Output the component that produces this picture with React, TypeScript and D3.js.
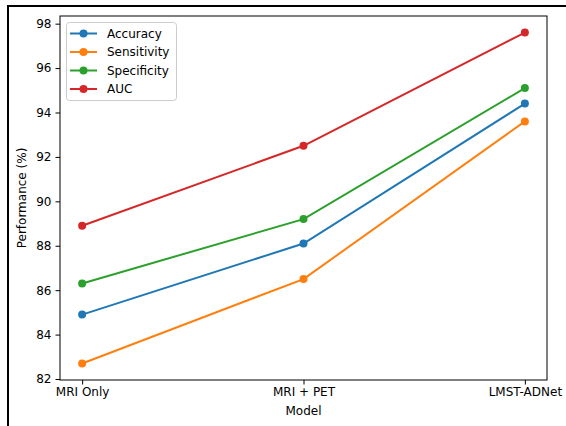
import React, { useEffect, useRef } from "react";
import * as d3 from "d3";

const WIDTH = 566;
const HEIGHT = 426;

const models = ["MRI Only", "MRI + PET", "LMST-ADNet"];
const accuracy = [84.9, 88.1, 94.4];
const sensitivity = [82.7, 86.5, 93.6];
const specificity = [86.3, 89.2, 95.1];
const auc = [88.9, 92.5, 97.6];
const yTicks = [82, 84, 86, 88, 90, 92, 94, 96, 98];

const series = [
  { name: "Accuracy", values: accuracy, color: "#1f77b4" },
  { name: "Sensitivity", values: sensitivity, color: "#ff7f0e" },
  { name: "Specificity", values: specificity, color: "#2ca02c" },
  { name: "AUC", values: auc, color: "#d62728" },
];

const FONT = "'DejaVu Sans', sans-serif";

const App = () => {
  const svgRef = useRef<SVGSVGElement>(null);

  useEffect(() => {
    const svg = d3.select(svgRef.current);
    svg.selectAll("*").remove();

    // outer frame around the picture
    svg
      .append("rect")
      .attr("x", 8)
      .attr("y", 6)
      .attr("width", 700)
      .attr("height", 600)
      .attr("fill", "white")
      .attr("stroke", "black")
      .attr("stroke-width", 2);

    const left = 60, right = 547, top = 16, bottom = 380;

    // matplotlib style 5% margins
    const xScale = d3
      .scaleLinear()
      .domain([-0.1, models.length - 1 + 0.1])
      .range([left, right]);

    const allVals = series.flatMap((s) => s.values);
    const lo = d3.min(allVals)!;
    const hi = d3.max(allVals)!;
    const pad = (hi - lo) * 0.05;
    const yScale = d3.scaleLinear().domain([lo - pad, hi + pad]).range([bottom, top]);

    const g = svg.append("g").style("font-family", FONT).style("font-size", "12px");

    // y axis
    const yAxis = g
      .append("g")
      .attr("transform", `translate(${left},0)`)
      .call(d3.axisLeft(yScale).tickValues(yTicks).tickSize(4.5).tickPadding(4).tickFormat(d3.format("d")));
    yAxis.select(".domain").remove();
    yAxis.selectAll("text").style("font-family", FONT).style("font-size", "12px").attr("fill", "#000");
    yAxis.selectAll("line").attr("stroke", "#000");

    // x axis
    const xAxis = g
      .append("g")
      .attr("transform", `translate(0,${bottom})`)
      .call(
        d3
          .axisBottom(xScale)
          .tickValues(models.map((_, i) => i))
          .tickSize(4.5)
          .tickPadding(3)
          .tickFormat((d) => models[d as number])
      );
    xAxis.select(".domain").remove();
    xAxis.selectAll("text").style("font-family", FONT).style("font-size", "12px").attr("fill", "#000");
    xAxis.selectAll("line").attr("stroke", "#000");

    // spines
    g.append("rect")
      .attr("x", left)
      .attr("y", top)
      .attr("width", right - left)
      .attr("height", bottom - top)
      .attr("fill", "none")
      .attr("stroke", "#000")
      .attr("stroke-width", 1);

    const line = d3
      .line<number>()
      .x((_, i) => xScale(i))
      .y((d) => yScale(d));

    series.forEach((s) => {
      g.append("path")
        .datum(s.values)
        .attr("d", line)
        .attr("fill", "none")
        .attr("stroke", s.color)
        .attr("stroke-width", 2);
      g.selectAll(null)
        .data(s.values)
        .enter()
        .append("circle")
        .attr("cx", (_, i) => xScale(i))
        .attr("cy", (d) => yScale(d))
        .attr("r", 4)
        .attr("fill", s.color);
    });

    // axis labels
    g.append("text")
      .attr("x", (left + right) / 2)
      .attr("y", 415)
      .attr("text-anchor", "middle")
      .text("Model");
    g.append("text")
      .attr("transform", `translate(26,${(top + bottom) / 2}) rotate(-90)`)
      .attr("text-anchor", "middle")
      .text("Performance (%)");

    // legend
    const legend = g.append("g");
    legend
      .append("rect")
      .attr("x", 66.5)
      .attr("y", 22.5)
      .attr("width", 110)
      .attr("height", 78)
      .attr("rx", 3)
      .attr("fill", "white")
      .attr("fill-opacity", 0.8)
      .attr("stroke", "#ccc");
    series.forEach((s, i) => {
      const y = 33.5 + i * 18.5;
      legend
        .append("line")
        .attr("x1", 70)
        .attr("x2", 97)
        .attr("y1", y)
        .attr("y2", y)
        .attr("stroke", s.color)
        .attr("stroke-width", 2);
      legend.append("circle").attr("cx", 83.5).attr("cy", y).attr("r", 4).attr("fill", s.color);
      legend
        .append("text")
        .attr("x", 107)
        .attr("y", y)
        .attr("dy", "0.35em")
        .text(s.name);
    });
  }, []);

  return (
    <div style={{ position: "fixed", left: 0, top: 0 }}>
      <svg ref={svgRef} width={WIDTH} height={HEIGHT} style={{ display: "block" }} />
    </div>
  );
};

export default App;
